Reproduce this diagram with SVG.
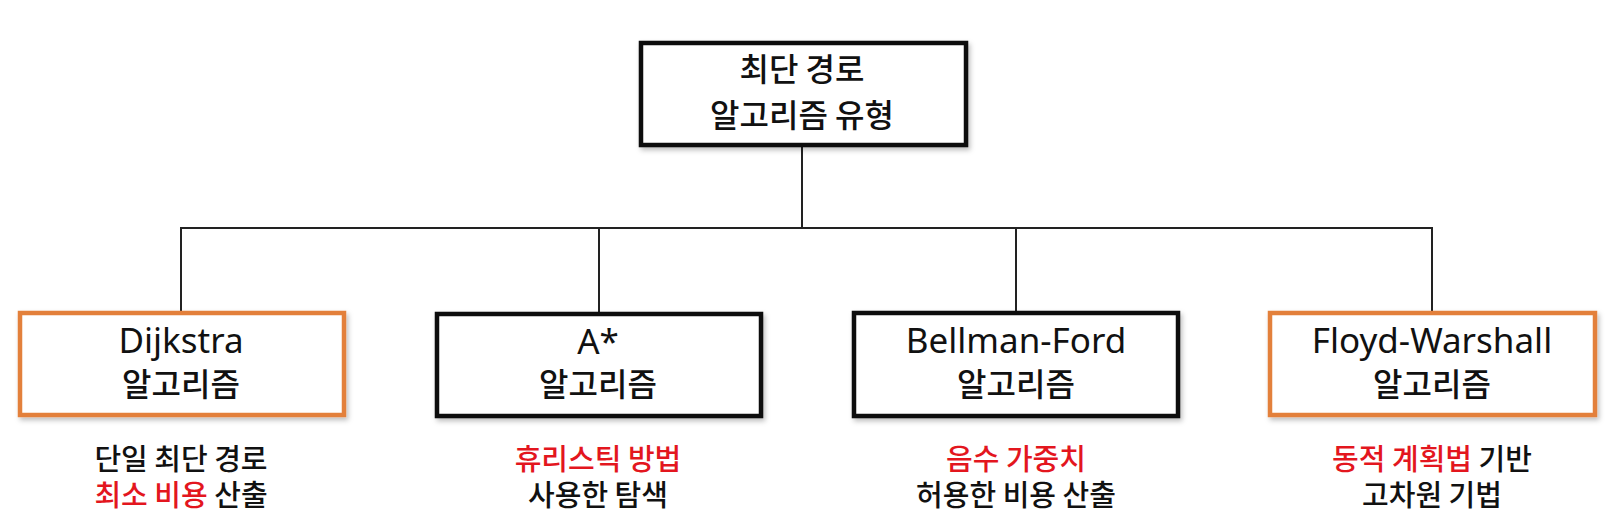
<svg xmlns="http://www.w3.org/2000/svg" width="1622" height="532" viewBox="0 0 1622 532">
<defs>
<filter id="sh" x="-10%" y="-20%" width="120%" height="150%">
<feDropShadow dx="2" dy="3" stdDeviation="2.5" flood-color="#000" flood-opacity="0.25"/>
</filter>
<style>
.box{fill:#fff;stroke-width:4.5;filter:url(#sh)}
.blk{stroke:#111}
.org{stroke:#E3803A}
.lat{font-family:"Noto Sans","Noto Sans CJK KR",sans-serif;font-size:35px;fill:#111;text-anchor:middle}
.kr{font-family:"Noto Sans CJK KR","Noto Sans",sans-serif;font-size:32px;font-weight:500;fill:#111;text-anchor:middle}
.desc{font-family:"Noto Sans CJK KR","Noto Sans",sans-serif;font-size:29px;font-weight:500;fill:#111;text-anchor:middle}
.red{fill:#E3161E}
.con{fill:none;stroke:#222;stroke-width:2}
</style>
</defs>
<rect width="1622" height="532" fill="#fff"/>
<g id="connectors">
<path class="con" d="M802 147 V228"/>
<path class="con" d="M181 311 V228 H1432 V311"/>
<path class="con" d="M599 228 V312"/>
<path class="con" d="M1016 228 V311"/>
</g>
<g id="root">
<rect class="box blk" x="641" y="43" width="325" height="102"/>
<text class="kr" x="802" y="81">최단 경로</text>
<text class="kr" x="802" y="127">알고리즘 유형</text>
</g>
<g id="dijkstra">
<rect class="box org" x="20" y="313" width="324" height="102"/>
<text class="lat" x="181" y="353">Dijkstra</text>
<text class="kr" x="181" y="396">알고리즘</text>
<text class="desc" x="181" y="470">단일 최단 경로</text>
<text class="desc" x="181" y="506"><tspan class="red">최소 비용</tspan> 산출</text>
</g>
<g id="astar">
<rect class="box blk" x="437" y="314" width="324" height="102"/>
<text class="lat" x="598" y="354">A*</text>
<text class="kr" x="598" y="396">알고리즘</text>
<text class="desc red" x="598" y="470">휴리스틱 방법</text>
<text class="desc" x="598" y="506">사용한 탐색</text>
</g>
<g id="bellman">
<rect class="box blk" x="854" y="313" width="324" height="103"/>
<text class="lat" x="1016" y="353">Bellman-Ford</text>
<text class="kr" x="1016" y="396">알고리즘</text>
<text class="desc red" x="1016" y="470">음수 가중치</text>
<text class="desc" x="1016" y="506">허용한 비용 산출</text>
</g>
<g id="floyd">
<rect class="box org" x="1270" y="313" width="325" height="102"/>
<text class="lat" x="1432" y="353">Floyd-Warshall</text>
<text class="kr" x="1432" y="396">알고리즘</text>
<text class="desc" x="1432" y="470"><tspan class="red">동적 계획법</tspan> 기반</text>
<text class="desc" x="1432" y="506">고차원 기법</text>
</g>
</svg>
